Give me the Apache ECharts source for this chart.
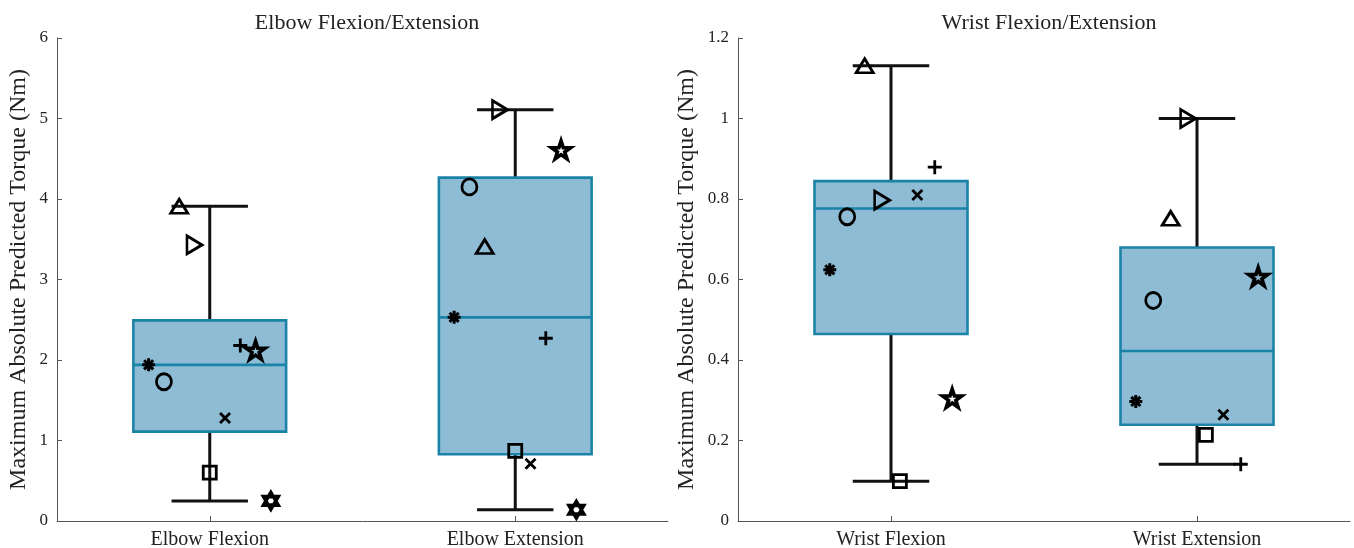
<!DOCTYPE html>
<html><head><meta charset="utf-8">
<script src="https://cdn.jsdelivr.net/npm/echarts@6/dist/echarts.min.js"></script>
<style>html,body{margin:0;padding:0;background:#fff}#c{width:1354px;height:548px}</style>
</head><body><div id="c"></div>
<script>
// ---------- data ----------
const elbowCategories = ['Elbow Flexion', 'Elbow Extension'];
const wristCategories = ['Wrist Flexion', 'Wrist Extension'];
const panelTitles = ['Elbow Flexion/Extension', 'Wrist Flexion/Extension'];
const yAxisName = 'Maximum Absolute Predicted Torque (Nm)';
// subject order (one marker per subject)
const subjectMarkers = ['asterisk', 'circle', 'triangle', 'rtriangle', 'square', 'cross', 'plus', 'pentagram', 'hexagram'];
const elbowFlexion   = [1.94, 1.73, 3.91, 3.43, 0.60, 1.28, 2.18, 2.12, 0.25];
const elbowExtension = [2.53, 4.15, 3.41, 5.11, 0.87, 0.71, 2.27, 4.61, 0.14];
const wristFlexion   = [0.624, 0.756, 1.131, 0.797, 0.099, 0.810, 0.879, 0.305];
const wristExtension = [0.297, 0.548, 0.752, 1.000, 0.214, 0.264, 0.141, 0.607];
// horizontal jitter of each subject (in category units)
const elbowJitter = [-0.2, -0.15, -0.1, -0.05, 0, 0.05, 0.1, 0.15, 0.2];
const wristJitter = [-0.2, -0.143, -0.086, -0.029, 0.029, 0.086, 0.143, 0.2];
const elbowTicks = [0, 1, 2, 3, 4, 5, 6];
const wristTicks = [0, 0.2, 0.4, 0.6, 0.8, 1, 1.2];

// ---------- helpers ----------
const FONT = 'Liberation Serif';
function quantile(sorted, p) {
  const n = sorted.length, pos = n * p + 0.5;
  if (pos <= 1) return sorted[0];
  if (pos >= n) return sorted[n - 1];
  const i = Math.floor(pos), f = pos - i;
  return sorted[i - 1] + f * (sorted[i] - sorted[i - 1]);
}
function boxStats(vals, xc) {
  const s = vals.slice().sort((a, b) => a - b);
  const q1 = quantile(s, 0.25), med = quantile(s, 0.5), q3 = quantile(s, 0.75);
  const iqr = q3 - q1;
  const lo = Math.min(...s.filter(v => v >= q1 - 1.5 * iqr));
  const hi = Math.max(...s.filter(v => v <= q3 + 1.5 * iqr));
  return [xc, lo, q1, med, q3, hi];
}
const markerStyle = {
  asterisk:  {symbol: 'path://M50 0L50 100M0 50L100 50M15 15L85 85M85 15L15 85', size: [13, 13], w: 3},
  circle:    {symbol: 'circle', size: [15, 16], w: 2.8},
  triangle:  {symbol: 'path://M50 0L100 86L0 86Z', size: [17, 14], w: 2.8},
  rtriangle: {symbol: 'path://M0 0L86 50L0 100Z', size: [15, 18], w: 2.8},
  square:    {symbol: 'rect', size: [13, 13], w: 2.8},
  cross:     {symbol: 'path://M0 0L100 100M100 0L0 100', size: [10, 10], w: 2.8},
  plus:      {symbol: 'path://M50 0L50 100M0 50L100 50', size: [14, 14], w: 2.8},
  pentagram: {symbol: 'path://M50 0L61.23 34.55L97.55 34.55L68.17 55.9L79.39 90.45L50 69.1L20.61 90.45L31.83 55.9L2.45 34.55L38.77 34.55Z', size: [19, 18], w: 3.6},
  hexagram:  {symbol: 'path://M50 0L93.3 75L6.7 75Z M50 100L6.7 25L93.3 25Z', size: [15, 17], w: 3.4}
};
function pointsFor(vals, xc, jitter) {
  return vals.map((v, i) => {
    const m = markerStyle[subjectMarkers[i]];
    return {value: [xc + jitter[i], v], symbol: m.symbol, symbolSize: m.size,
            itemStyle: {color: 'rgba(0,0,0,0)', borderColor: '#000', borderWidth: m.w, opacity: 1}};
  });
}
function renderBox(params, api) {
  const x = api.value(0);
  const lo = api.value(1), q1 = api.value(2), med = api.value(3), q3 = api.value(4), hi = api.value(5);
  const hw = 0.25, cw = 0.125;
  const pTL = api.coord([x - hw, q3]), pBR = api.coord([x + hw, q1]);
  const pMedL = api.coord([x - hw, med]), pMedR = api.coord([x + hw, med]);
  const pHi = api.coord([x, hi]), pQ3 = api.coord([x, q3]), pQ1 = api.coord([x, q1]), pLo = api.coord([x, lo]);
  const capHiL = api.coord([x - cw, hi]), capHiR = api.coord([x + cw, hi]);
  const capLoL = api.coord([x - cw, lo]), capLoR = api.coord([x + cw, lo]);
  const wStyle = {stroke: '#111', lineWidth: 3, fill: null};
  const bStroke = '#1b82a8';
  return {type: 'group', children: [
    {type: 'line', shape: {x1: pHi[0], y1: pHi[1], x2: pQ3[0], y2: pQ3[1]}, style: wStyle},
    {type: 'line', shape: {x1: pLo[0], y1: pLo[1], x2: pQ1[0], y2: pQ1[1]}, style: wStyle},
    {type: 'line', shape: {x1: capHiL[0], y1: capHiL[1], x2: capHiR[0], y2: capHiR[1]}, style: wStyle},
    {type: 'line', shape: {x1: capLoL[0], y1: capLoL[1], x2: capLoR[0], y2: capLoR[1]}, style: wStyle},
    {type: 'rect', shape: {x: pTL[0], y: pTL[1], width: pBR[0] - pTL[0], height: pBR[1] - pTL[1]},
     style: {fill: '#8dbcd4', stroke: bStroke, lineWidth: 2.6}},
    {type: 'line', shape: {x1: pMedL[0], y1: pMedL[1], x2: pMedR[0], y2: pMedR[1]}, style: {stroke: bStroke, lineWidth: 2.6}}
  ]};
}
function xAxisFor(idx, cats) {
  return {type: 'value', gridIndex: idx, min: 0.5, max: 2.5,
    axisLine: {show: true, onZero: false, lineStyle: {color: '#555', width: 1}},
    axisTick: {show: true, inside: true, length: 5, customValues: [1, 2], lineStyle: {color: '#555'}},
    axisLabel: {show: true, customValues: [1, 2], formatter: v => cats[Math.round(v) - 1],
      fontFamily: FONT, fontSize: 20, color: '#222', margin: 9},
    splitLine: {show: false}};
}
function yAxisFor(idx, ticks, gap) {
  const iv = ticks[1] - ticks[0];
  return {type: 'value', gridIndex: idx, min: ticks[0], max: ticks[ticks.length - 1], interval: iv,
    name: yAxisName, nameLocation: 'middle', nameGap: gap, nameRotate: 90,
    nameTextStyle: {fontFamily: FONT, fontSize: 24, color: '#222'},
    axisLine: {show: true, lineStyle: {color: '#555', width: 1}},
    axisTick: {show: true, inside: true, length: 5, lineStyle: {color: '#555'}},
    axisLabel: {fontFamily: FONT, fontSize: 17, color: '#222', margin: 9,
      formatter: v => String(+v.toFixed(2))},
    splitLine: {show: false}};
}

const chart = echarts.init(document.getElementById('c'), null, {renderer: 'canvas'});
chart.setOption({
  animation: false,
  backgroundColor: '#fff',
  title: [
    {text: panelTitles[0], left: 362, top: 7, textAlign: 'center',
     textStyle: {fontFamily: FONT, fontSize: 22, fontWeight: 'normal', color: '#222'}},
    {text: panelTitles[1], left: 1044, top: 7, textAlign: 'center',
     textStyle: {fontFamily: FONT, fontSize: 22, fontWeight: 'normal', color: '#222'}}
  ],
  grid: [
    {left: 57, top: 38, width: 611, height: 483, containLabel: false, outerBoundsMode: 'none'},
    {left: 738, top: 38, width: 612, height: 483, containLabel: false, outerBoundsMode: 'none'}
  ],
  xAxis: [xAxisFor(0, elbowCategories), xAxisFor(1, wristCategories)],
  yAxis: [yAxisFor(0, elbowTicks, 26), yAxisFor(1, wristTicks, 39)],
  series: [
    {type: 'custom', xAxisIndex: 0, yAxisIndex: 0, renderItem: renderBox, z: 1,
     data: [boxStats(elbowFlexion, 1), boxStats(elbowExtension, 2)]},
    {type: 'custom', xAxisIndex: 1, yAxisIndex: 1, renderItem: renderBox, z: 1,
     data: [boxStats(wristFlexion, 1), boxStats(wristExtension, 2)]},
    {type: 'scatter', xAxisIndex: 0, yAxisIndex: 0, z: 5,
     data: pointsFor(elbowFlexion, 1, elbowJitter).concat(pointsFor(elbowExtension, 2, elbowJitter))},
    {type: 'scatter', xAxisIndex: 1, yAxisIndex: 1, z: 5,
     data: pointsFor(wristFlexion, 1, wristJitter).concat(pointsFor(wristExtension, 2, wristJitter))}
  ]
});
</script>
</body></html>
